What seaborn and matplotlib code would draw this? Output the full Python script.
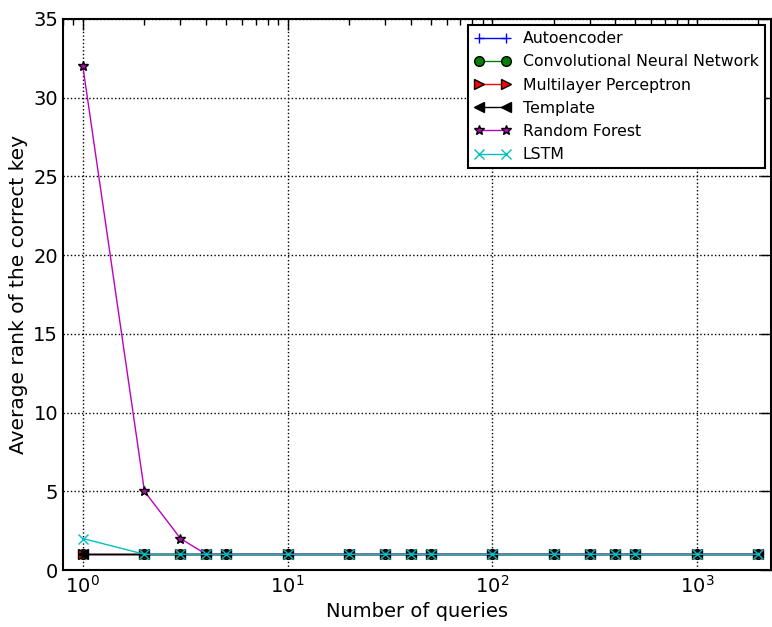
import matplotlib
matplotlib.use("Agg")
import matplotlib.pyplot as plt
import seaborn as sns

# Number of queries used for the attack
queries = [1, 2, 3, 4, 5, 10, 20, 30, 40, 50, 100, 200, 300, 400, 500, 1000, 2000]

# Average rank of the correct key per model
rank_autoencoder = [1, 1, 1, 1, 1, 1, 1, 1, 1, 1, 1, 1, 1, 1, 1, 1, 1]
rank_cnn = [1, 1, 1, 1, 1, 1, 1, 1, 1, 1, 1, 1, 1, 1, 1, 1, 1]
rank_mlp = [1, 1, 1, 1, 1, 1, 1, 1, 1, 1, 1, 1, 1, 1, 1, 1, 1]
rank_template = [1, 1, 1, 1, 1, 1, 1, 1, 1, 1, 1, 1, 1, 1, 1, 1, 1]
rank_rf = [32, 5, 2, 1, 1, 1, 1, 1, 1, 1, 1, 1, 1, 1, 1, 1, 1]
rank_lstm = [2, 1, 1, 1, 1, 1, 1, 1, 1, 1, 1, 1, 1, 1, 1, 1, 1]

series = [
    ("Autoencoder", rank_autoencoder, "b", "+"),
    ("Convolutional Neural Network", rank_cnn, "g", "o"),
    ("Multilayer Perceptron", rank_mlp, "r", ">"),
    ("Template", rank_template, "k", "<"),
    ("Random Forest", rank_rf, "m", "*"),
    ("LSTM", rank_lstm, "c", "x"),
]

sns.set_style("white")
plt.rcParams["font.family"] = ["DejaVu Sans"]
plt.rcParams["text.color"] = "k"
plt.rcParams["axes.labelcolor"] = "k"
plt.rcParams["xtick.color"] = "k"
plt.rcParams["ytick.color"] = "k"

fig = plt.figure(figsize=(7.72, 6.27), dpi=100)
ax = fig.add_axes([0.0816, 0.0909, 0.917, 0.8788])

for name, vals, col, mk in series:
    edge = col if mk in ("+", "x") else "k"
    sns.lineplot(x=queries, y=vals, ax=ax, color=col, marker=mk, markersize=7,
                 markeredgecolor=edge, markeredgewidth=1, linewidth=1,
                 label=name, errorbar=None)

ax.set_xscale("log")
ax.set_xlim(0.8, 2300)
ax.set_ylim(0, 35)
ax.set_yticks(range(0, 36, 5))

ax.grid(True, which="major", color="k", linestyle=":", linewidth=1)
ax.tick_params(which="both", top=True, right=True, direction="in", color="k")
ax.tick_params(which="major", length=8, width=1, labelsize=14)
ax.tick_params(which="minor", length=4, width=1)
for sp in ax.spines.values():
    sp.set_color("k")
    sp.set_linewidth(1.5)

ax.set_xlabel("Number of queries", fontsize=14)
ax.set_ylabel("Average rank of the correct key", fontsize=14.5)

leg = ax.legend(loc="upper right", fontsize=11.3, numpoints=2, frameon=True,
                fancybox=False, edgecolor="k", framealpha=1, handlelength=2.3,
                borderaxespad=0.4, labelspacing=0.52, borderpad=0.38)
leg.get_frame().set_linewidth(1.5)

fig.savefig("out.png", dpi=100)
